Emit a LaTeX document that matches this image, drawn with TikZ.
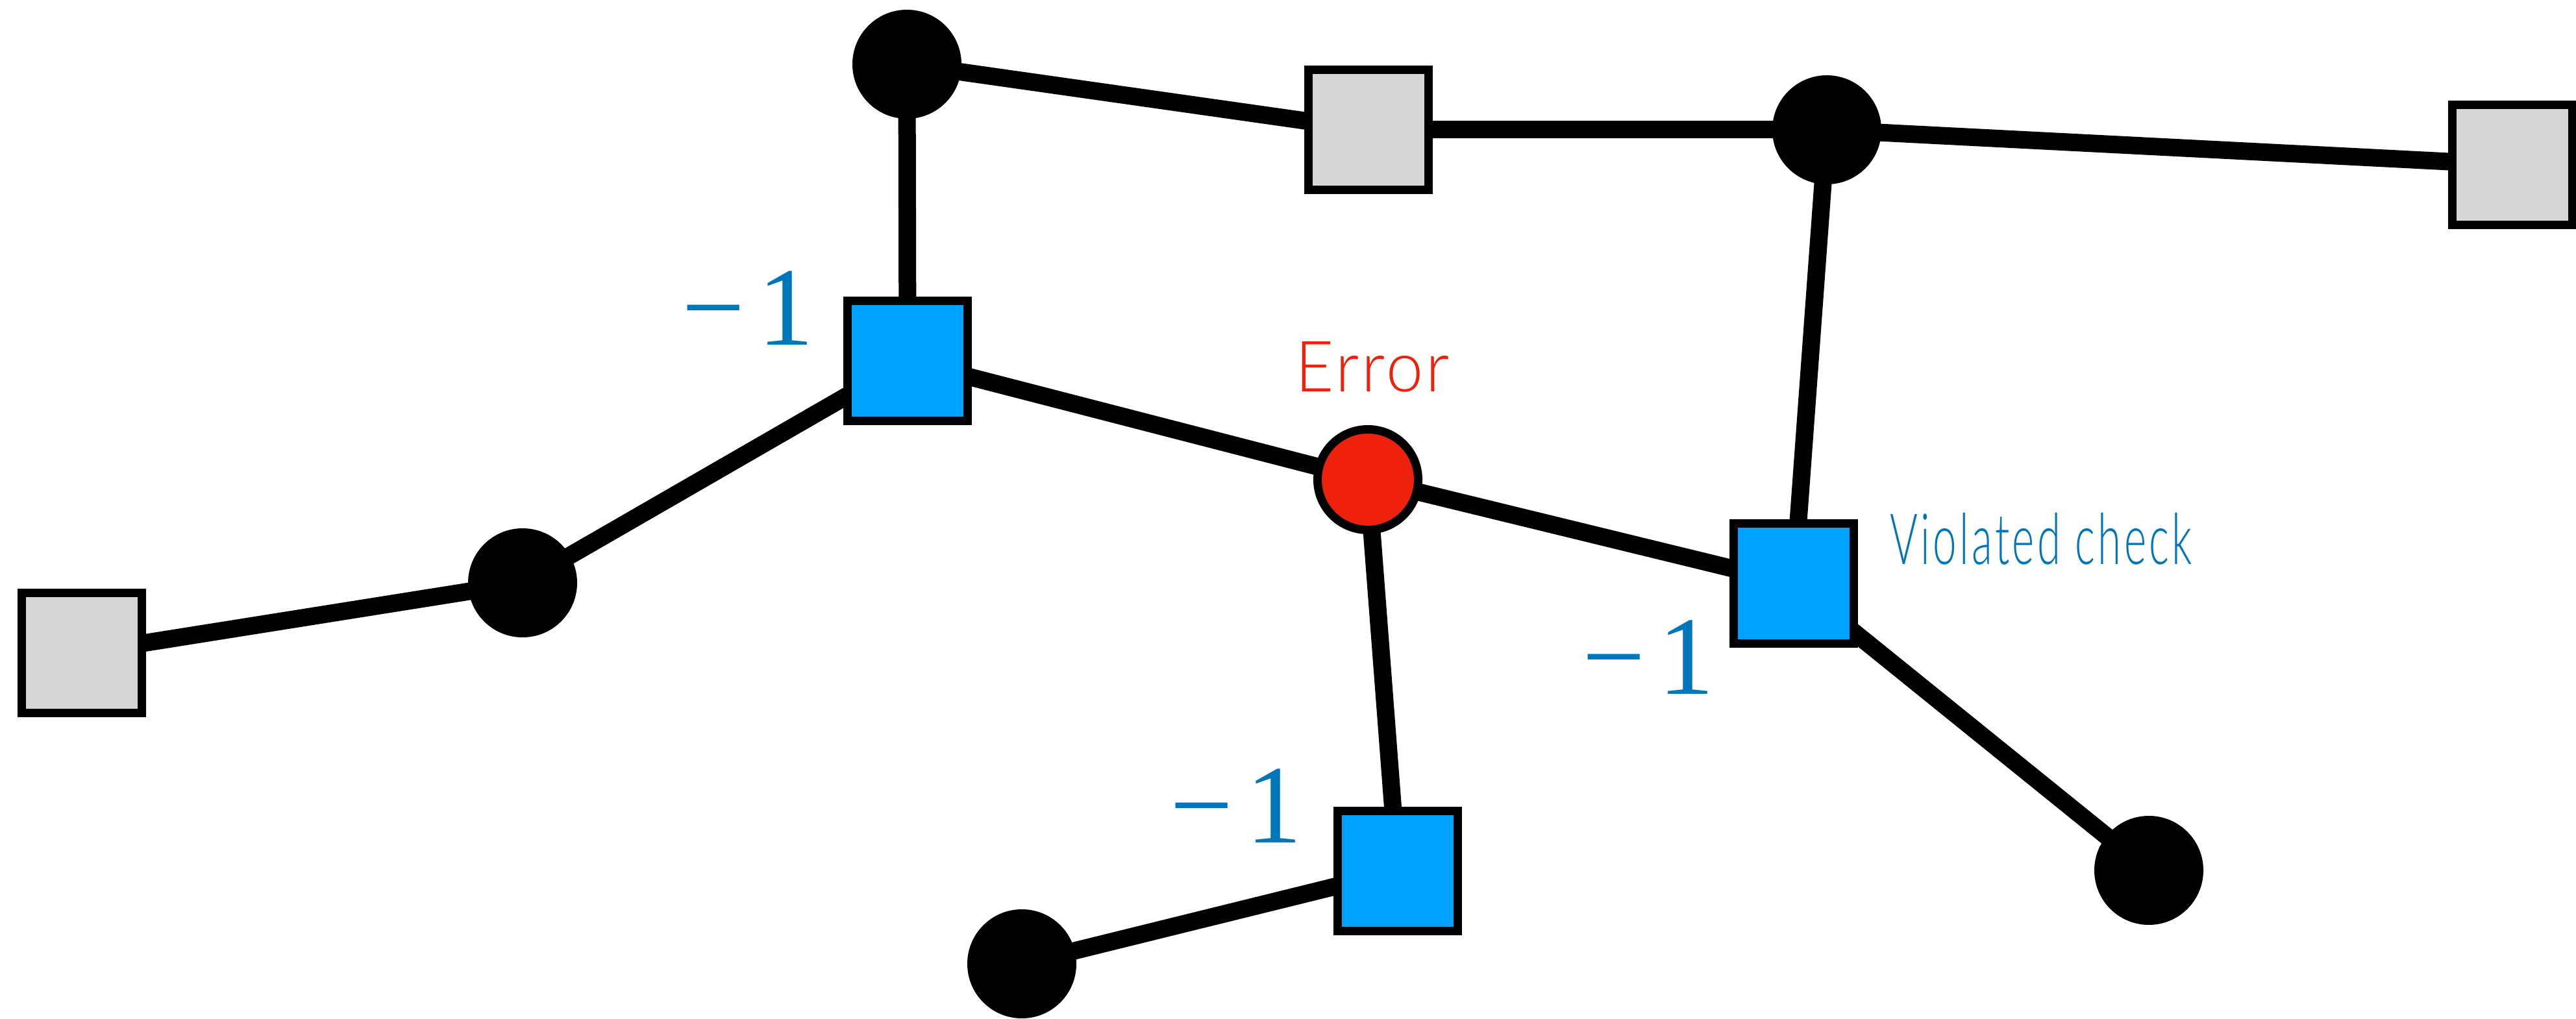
\documentclass[tikz,border=0pt]{standalone}
\usepackage{fontspec}
\usepackage{xcolor}
\usepackage{tikz}
\usetikzlibrary{positioning,backgrounds}
\newfontfamily\errfont[FakeStretch=0.94,LetterSpace=4]{Lato-Light.ttf}
\newfontfamily\checkfont[FakeStretch=0.6,LetterSpace=4]{Lato-Light.ttf}
\newfontfamily\numfont{Liberation Serif}
\definecolor{CheckBlue}{HTML}{00A2FF}
\definecolor{LabelBlue}{HTML}{0076BA}
\definecolor{ErrRed}{HTML}{EE220C}
\definecolor{BitGray}{HTML}{D6D6D6}

\begin{document}
\begin{tikzpicture}[
      bit/.style={circle, fill=black, inner sep=0pt, minimum size=1.68cm},
      errbit/.style={circle, draw=black, line width=0.13cm, fill=ErrRed,
                     inner sep=0pt, minimum size=1.55cm},
      check/.style={rectangle, draw=black, line width=0.13cm, fill=BitGray,
                    inner sep=0pt, minimum size=1.85cm},
      violated/.style={check, fill=CheckBlue},
      edge/.style={line width=0.27cm, black},
      syndrome/.style={text=LabelBlue, anchor=base, inner sep=0pt,
                       font=\numfont\fontsize{49}{49}\selectfont}
    ]
      \useasboundingbox (0,0) rectangle (39.68,15.70);
      % qubits
      \node[bit] (q1) at (13.97,14.71) {};
      \node[bit] (q2) at (28.14,13.70) {};
      \node[bit] (q3) at (8.05,6.72)   {};
      \node[bit] (q4) at (15.74,0.85)  {};
      \node[bit] (q5) at (33.10,2.29)  {};
      \node[errbit] (err) at (21.07,8.31) {};
      % checks
      \node[check] (s1) at (21.08,13.70) {};
      \node[check] (s2) at (38.70,13.16) {};
      \node[check] (s3) at (1.26,5.64)   {};
      \node[violated] (v1) at (13.98,10.14) {};
      \node[violated] (v2) at (27.63,6.71)  {};
      \node[violated] (v3) at (21.53,2.28)  {};
      \begin{scope}[on background layer]
        \foreach \a/\b in {q1/v1, q1/s1, s1/q2, q2/s2, q2/v2, v1/q3, q3/s3,
                           v1/err, err/v2, err/v3, v3/q4, v2/q5}
          \draw[edge] (\a.center)--(\b.center);
      \end{scope}
      % labels
      \node[syndrome] (m1) at (11.52,10.38) {−\kern0.12em1};
      \node[syndrome] (m2) at (25.39,5.00)  {−\kern0.12em1};
      \node[syndrome] (m3) at (19.04,2.71)  {−\kern0.12em1};
      \node[anchor=base, inner sep=0pt, text=ErrRed,
            font=\errfont\fontsize{31}{36}\selectfont] (errlbl) at (21.14,9.66) {Error};
      \node[anchor=base west, inner sep=0pt, text=LabelBlue,
            font=\checkfont\fontsize{31}{36}\selectfont] (vlbl) at (29.11,7.00) {Violated check};
    \end{tikzpicture}
\end{document}
